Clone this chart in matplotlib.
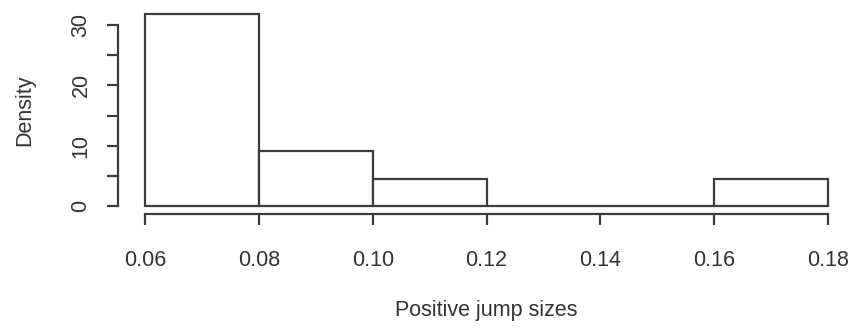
import numpy as np
import matplotlib
matplotlib.use("Agg")
from matplotlib import pyplot as plt

# histogram of positive jump sizes (counts per 0.02-wide bin)
breaks = [0.06, 0.08, 0.10, 0.12, 0.14, 0.16, 0.18]
counts = [7, 2, 1, 0, 0, 1]
x_ticks = [0.06, 0.08, 0.10, 0.12, 0.14, 0.16, 0.18]
x_tick_labels = ["0.06", "0.08", "0.10", "0.12", "0.14", "0.16", "0.18"]
y_ticks = [0, 5, 10, 15, 20, 25, 30]
y_tick_labels = ["0", "", "10", "", "20", "", "30"]

plt.rcParams['font.family'] = ['Liberation Sans', 'DejaVu Sans']
line_col = '#3c3c3c'
fsize = 15.5

edges = np.array(breaks)
widths = np.diff(edges)
density = np.array(counts) / (np.sum(counts) * widths)

fig = plt.figure(figsize=(8.63, 3.32), dpi=100)
ax = fig.add_axes([118 / 863, 1 - 213.7 / 332, 737 / 863, 207.2 / 332])

ax.bar(edges[:-1], density, width=widths, align='edge',
       facecolor='white', edgecolor=line_col, linewidth=1.6)

# R-style axis ranges with 4% padding
xr = edges[-1] - edges[0]
ax.set_xlim(edges[0] - 0.04 * xr, edges[-1] + 0.04 * xr)
ymax = density.max()
ax.set_ylim(-0.04 * ymax, ymax * 1.04)

for s in ['top', 'right']:
    ax.spines[s].set_visible(False)
ax.spines['left'].set_bounds(y_ticks[0], y_ticks[-1])
ax.spines['bottom'].set_bounds(x_ticks[0], x_ticks[-1])
for s in ['left', 'bottom']:
    ax.spines[s].set_color(line_col)
    ax.spines[s].set_linewidth(1.6)

ax.set_xticks(x_ticks)
ax.set_xticklabels(x_tick_labels)
ax.set_yticks(y_ticks)
ax.set_yticklabels(y_tick_labels, rotation=90, va='center')
ax.tick_params(axis='both', direction='out', length=8, width=1.6,
               color=line_col, labelsize=fsize, labelcolor='#333333')
ax.tick_params(axis='x', pad=18)
ax.tick_params(axis='y', pad=11)

ax.text(0.5, -0.465, "Positive jump sizes", transform=ax.transAxes,
        ha='center', va='center', fontsize=fsize, color='#333333')
ax.text(-0.126, 0.5, "Density", transform=ax.transAxes, rotation=90,
        ha='center', va='center', fontsize=fsize, color='#333333')

fig.savefig("out.png", dpi=100)
